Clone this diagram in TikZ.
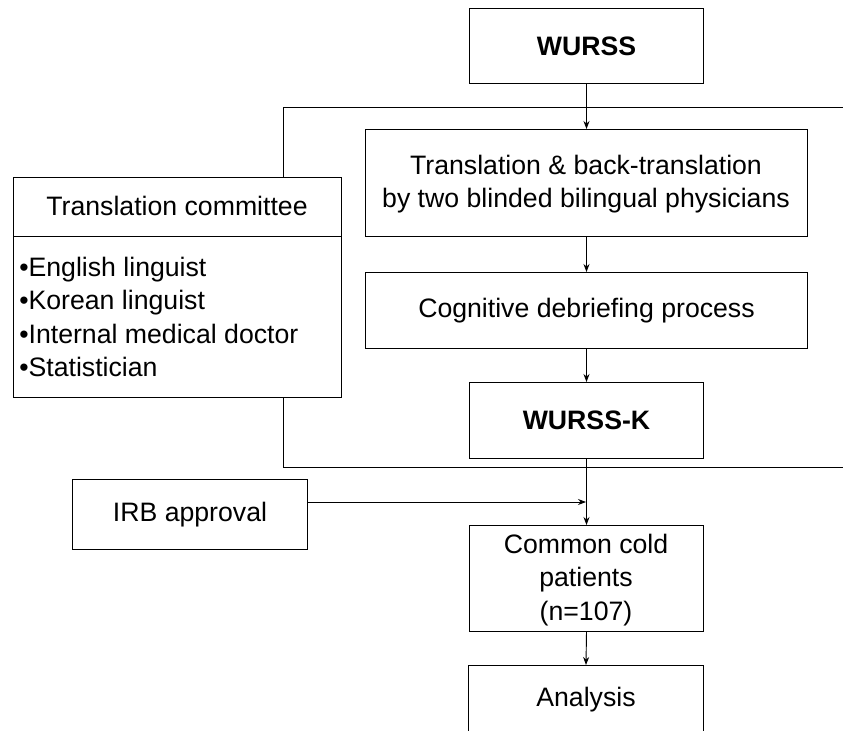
\documentclass[tikz,border=0pt]{standalone}
\usepackage{fontspec}
\setmainfont{Liberation Sans}
\usetikzlibrary{arrows.meta}
\begin{document}
\begin{tikzpicture}[x=0.75pt,y=-0.75pt,
  box/.style={draw, line width=0.75pt, inner sep=0pt, anchor=north west},
  txt/.style={align=center, inner sep=0pt, font=\fontsize{20}{25}\selectfont},
  conn/.style={line width=0.7pt},
  arr/.style={conn,-{Stealth[length=6pt,width=4.5pt]}}]
\useasboundingbox (0,0) rectangle (843,731);
\clip (0,0) rectangle (843,731);
% boxes
\node[box, minimum width=175.5pt, minimum height=56.25pt] (wurss) at (469,8) {};
\node[box, minimum width=331.5pt, minimum height=80.25pt] (trans) at (365,129) {};
\node[box, minimum width=331.5pt, minimum height=57pt] (cog) at (365,272) {};
\node[box, minimum width=175.5pt, minimum height=57pt] (wurssk) at (469,382) {};
\node[box, minimum width=246pt, minimum height=165pt] (comm) at (13,177) {};
\node[box, minimum width=176.25pt, minimum height=52.5pt] (irb) at (72,479) {};
\node[box, minimum width=175.5pt, minimum height=79.5pt] (cold) at (469,525) {};
\node[box, minimum width=176.25pt, minimum height=80pt] (anal) at (468,665) {};
% texts
\node[txt, font=\fontsize{20}{25}\selectfont\bfseries] (t1) at (wurss.center) {WURSS};
\node[txt] (t2) at (586,184) {Translation \& back-translation\\by two blinded bilingual physicians};
\node[txt] (t3) at (cog.center) {Cognitive debriefing process};
\node[txt, font=\fontsize{20}{25}\selectfont\bfseries] (t4) at (wurssk.center) {WURSS-K};
\node[txt] (t5) at (177,206) {Translation committee};
\node[txt, align=left, anchor=west] (t6) at (19,317) {•English linguist\\•Korean linguist\\•Internal medical doctor\\•Statistician};
\node[txt] (t7) at (irb.center) {IRB approval};
\node[txt] (t8) at (586,580) {Common cold\\patients\\(n=107)};
\node[txt] (t9) at (586,700) {Analysis};
% divider in committee box
\coordinate (dl) at (13,236);
\draw[conn] (dl) -- (dl -| comm.east);
% bracket lines
\coordinate (ctop) at (283,107);
\coordinate (cbot) at (283,467);
\coordinate (rtop) at (843,107);
\coordinate (rbot) at (843,467);
\draw[conn] (ctop |- comm.north) -- (ctop) -- (rtop);
\draw[conn] (cbot |- comm.south) -- (cbot) -- (rbot);
% arrows
\draw[arr] (wurss.south) -- (trans.north);
\draw[arr] (trans.south) -- (cog.north);
\draw[arr] (cog.south) -- (wurssk.north);
\draw[arr] (wurssk.south) -- (cold.north);
\coordinate (j) at (586,502);
\draw[arr] (irb.east |- j) -- (j);
\draw[arr] (cold.south) -- (anal.north);
\end{tikzpicture}
\end{document}
